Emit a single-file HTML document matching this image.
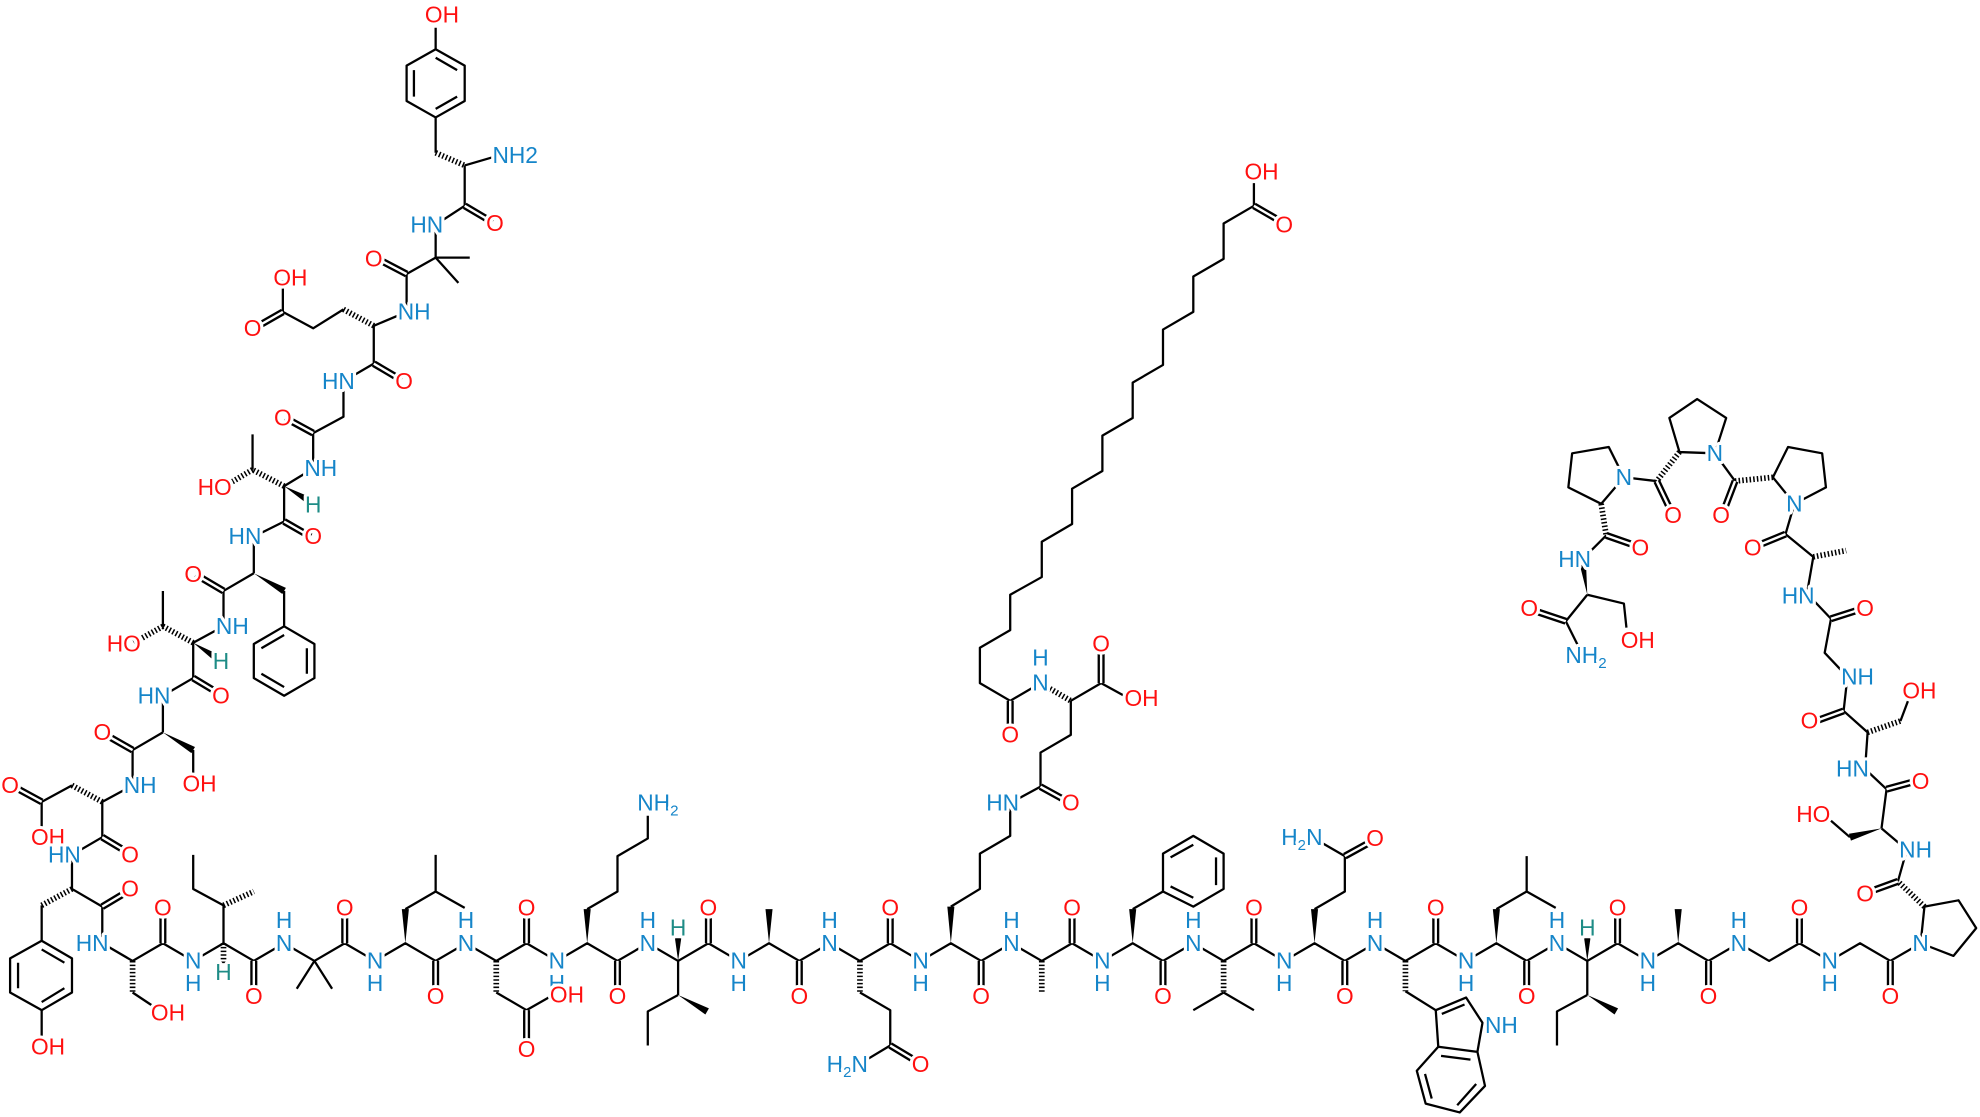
<!DOCTYPE html>
<html><head><meta charset="utf-8"><style>
html,body{margin:0;padding:0;background:#fff;}
svg{display:block}
text{font-family:"Liberation Sans",sans-serif;font-size:18px;text-anchor:middle;stroke:#fff;stroke-width:5px;paint-order:stroke;stroke-linejoin:round}
.n{fill:#1585c9}.o{fill:#ff1010}.h{fill:#1e8c86}
</style></head><body>
<svg width="1980" height="1117" viewBox="0 0 1568 884.6" preserveAspectRatio="none" xmlns="http://www.w3.org/2000/svg">
<rect width="1568" height="884.6" fill="#fff"/>
<defs>
<g id="dbl">
<path d="M368,163L390,176M322,217L299,205M224,247L203,259M296,288L318,301M248,343L226,331M225,413L246,425M177,468L155,455M153,537L173,549M105,594L84,582M33,635L11,623M81,663L101,675M81,718L101,706"/>
<path d="M129,747V723M273,747V723M417,747V723M561,747V723M705,747V723M849,747V723M993,747V723M1137,747V723M1281,747V723M1425,747V723"/>
<path d="M201,761V785M345,761V785M489,761V785M633,761V785M777,761V785M921,761V785M1065,761V785M1209,761V785M1353,761V785M1497,761V785"/>
<path d="M417,800V825M705,828L725,840M1065,678L1085,667M993,163L1012,174M800,555V576M872,541V516M824,623L844,634"/>
<path d="M1503,698L1481,706M1494,625L1516,619M1460,563L1438,571M1450,490L1472,483M1414,423L1392,432M1374,381L1366,402M1312,381L1322,402M1272,424L1295,432M1240,492L1216,484"/>
</g>
</defs>
<g fill="none" stroke="#000" stroke-width="1.8" stroke-linejoin="round">
<polygon points="345,39 368,52 368,80 345,93 322,80 322,52"/>
<path d="M345,45.7L362,55.5M362,76.5L345,86.2M327.8,76.5V55.5"/>
<path d="M345,39V22M345,93V121M368,131L392,124M368,131V163M368,163L345,178M345,178V204M345,204H372M345,204L363,224M345,204L322,217M322,217V247L296,258M272,245L248,260L224,247V222M296,258V288M296,288L272,302V330L248,343M248,343V371L225,385M200,372V344M225,385V413M225,413L201,425V454M225,468V496M201,454L177,468M177,468V496L153,509M129,496V468M153,509V537M153,537L129,551V580M153,594V618M129,580L105,594M105,594V622L81,635M57,622L33,635V660M81,635V663M81,663L57,677V704M33,717V745M33,800V825M57,704L81,718V747"/>
<polygon points="225,496 249,510 249,537 225,551 201,537 201,510"/>
<path d="M207,513.4L225,502.9M243,513.4V533.6M225,544.1L207,533.6"/>
<polygon points="33,745 57,759 57,786 33,800 8,786 8,759"/>
<path d="M33,751.9L51,762.4M51,782.6L33,793.6M14.3,782.6V762.4"/>
<polyline points="81,747 105,761 129,747 153,761 177,747 201,761 225,747 249,761 273,747 297,761 321,747 345,761 369,747 393,761 417,747 441,761 465,747 489,761 513,747 537,761 561,747 585,761 609,747 633,761 657,747 681,761 705,747 729,761 753,747 777,761 801,747 825,761 849,747 873,761 897,747 921,761 945,747 969,761 993,747 1017,761 1041,747 1065,761 1089,747 1113,761 1137,747 1161,761 1185,747 1209,761 1233,747 1257,761 1281,747 1305,761 1329,747 1353,761 1377,747 1401,761 1425,747 1449,761 1473,747 1497,761 1521,747"/>
<path d="M105,786L120,796M177,747V717M177,717L153,704V677M249,761L235,783M249,761L263,783M321,720L345,706V677M345,706L368,719M393,786L417,800M417,800L438,788M465,720L489,706V678L513,664V646M537,761V788M537,788L513,801V828M681,786L705,800V828M705,828L685,840M753,718L776,704V676L800,662V636"/>
<path d="M897,720L921,706"/>
<polygon points="921,706 921,676 945,662 969,676 969,704 945,718"/>
<path d="M927,679L945,669M963,679V701M945,711L927,702"/>
<path d="M969,786L945,800M969,786L993,800M1041,720L1065,706V678M1065,678L1046,667M1113,785L1137,800"/>
<path d="M1137,800L1161,790L1174,810L1170,833L1139,829ZM1139,829L1122,848L1129,874L1156,881L1176,860L1170,833"/>
<path d="M1141.8,803L1159.8,795.5M1128.5,850.5L1133.8,870M1154,875.3L1169,858.5M1164.5,839.2L1141.2,836.2"/>
<path d="M1185,720L1209,706V678M1209,706L1232,719M1257,761V788M1257,788L1233,801V828"/>
<polyline points="993,145 993,163 969,177 969,205 945,219 945,247 921,261 921,289 897,303 897,331 873,345 873,373 849,387 849,415 825,429 825,457 800,471 800,499 776,513 776,541 800,555 824,541"/>
<path d="M848,555L872,541M872,541L892,552M848,555V582L824,596V623M824,623L800,636"/>
<path d="M1521,747L1524,718L1551,713L1565,735L1547,757Z"/>
<path d="M1503,698L1510,673L1490,656M1465,663L1450,650M1490,656L1494,625M1494,625L1477,609L1479,580M1505,571L1511,555M1479,580L1460,563M1460,563L1463,536L1445,517L1450,490M1450,490L1431,470L1436,441M1436,441L1414,423L1421,399"/>
<path d="M1421,399L1404,378L1416,354L1443,359L1446,386Z"/>
<path d="M1374,381L1358,359"/>
<path d="M1358,359L1330,358L1322,331L1344,316L1367,331Z"/>
<path d="M1312,381L1286,378"/>
<path d="M1286,378L1274,354L1245,359L1242,386L1268,399Z"/>
<path d="M1272,424L1253,443M1257,471L1286,478L1288,497M1257,471L1240,492M1240,492L1250,512"/>
</g>
<g fill="none" stroke="#000" stroke-width="4.5" stroke-dasharray="1.2 1.7">
<path d="M345,121L368,131M296,258L272,245M225,385L200,372M200,372L178,385M153,509L129,496M129,496L106,509M81,635L57,622M57,704L33,717M177,747V764M177,717L201,706M105,761V786M393,761V786M681,761V786M825,761V786M969,761V786M1113,761V785M824,541L848,555M1524,718L1503,698M1479,580L1505,571M1436,441L1462,436M1404,378L1374,381M1330,358L1312,381M1268,399L1272,424"/>
</g>
<g fill="#000" stroke="none">
<polygon points="225,385 242.6,398.4 245.4,393.6"/>
<polygon points="201,454 223.6,470.4 226.4,465.6"/>
<polygon points="153,509 168.6,522.4 171.4,517.6"/>
<polygon points="129,580 151.6,596.4 154.4,591.6"/>
<polygon points="321,747 318.2,720 323.8,720"/>
<polygon points="465,747 462.2,720 467.8,720"/>
<polygon points="609,747 606.2,720 611.8,720"/>
<polygon points="753,747 750.2,718 755.8,718"/>
<polygon points="897,747 894.2,720 899.8,720"/>
<polygon points="1041,747 1038.2,720 1043.8,720"/>
<polygon points="1185,747 1182.2,720 1187.8,720"/>
<polygon points="1329,747 1326.2,720 1331.8,720"/>
<polygon points="537,761 534.5,743 539.5,743"/>
<polygon points="1257,761 1254.5,743 1259.5,743"/>
<polygon points="537,788 558.6,803.4 561.4,798.6"/>
<polygon points="1257,788 1278.6,803.4 1281.4,798.6"/>
<polygon points="1490,656 1465.8,665.7 1464.2,660.3"/>
<polygon points="1257,471 1251,447 1256,446"/>
</g>
<use href="#dbl" fill="none" stroke="#000" stroke-width="5.6"/>
<use href="#dbl" fill="none" stroke="#fff" stroke-width="1.9"/>
<g>
<text class="o" x="350" y="18">OH</text>
<text class="n" x="408" y="129">NH2</text>
<text class="o" x="392" y="183">O</text>
<text class="n" x="338" y="184">HN</text>
<text class="o" x="296" y="211">O</text>
<text class="n" x="328" y="253">NH</text>
<text class="o" x="230" y="226">OH</text>
<text class="o" x="200" y="266">O</text>
<text class="o" x="320" y="308">O</text>
<text class="n" x="268" y="308">HN</text>
<text class="o" x="224" y="337">O</text>
<text class="n" x="254" y="377">NH</text>
<text class="h" x="248" y="406">H</text>
<text class="o" x="170" y="392">HO</text>
<text class="o" x="248" y="431">O</text>
<text class="n" x="194" y="431">HN</text>
<text class="o" x="153" y="461">O</text>
<text class="n" x="184" y="502">NH</text>
<text class="h" x="175" y="530">H</text>
<text class="o" x="98" y="516">HO</text>
<text class="o" x="175" y="557">O</text>
<text class="n" x="122" y="557">HN</text>
<text class="o" x="158" y="627">OH</text>
<text class="o" x="81" y="586">O</text>
<text class="n" x="111" y="628">NH</text>
<text class="o" x="8" y="628">O</text>
<text class="o" x="38" y="669">OH</text>
<text class="o" x="103" y="683">O</text>
<text class="n" x="51" y="683">HN</text>
<text class="o" x="38" y="835">OH</text>
<text class="o" x="103" y="710">O</text>
<text class="n" x="73" y="753">HN</text>
<text class="o" x="129" y="725">O</text><text class="o" x="273" y="725">O</text><text class="o" x="417" y="725">O</text><text class="o" x="561" y="725">O</text><text class="o" x="705" y="725">O</text><text class="o" x="849" y="725">O</text><text class="o" x="993" y="725">O</text><text class="o" x="1137" y="725">O</text><text class="o" x="1281" y="725">O</text><text class="o" x="1425" y="725">O</text>
<text class="o" x="201" y="795">O</text><text class="o" x="345" y="795">O</text><text class="o" x="489" y="795">O</text><text class="o" x="633" y="795">O</text><text class="o" x="777" y="795">O</text><text class="o" x="921" y="795">O</text><text class="o" x="1065" y="795">O</text><text class="o" x="1209" y="795">O</text><text class="o" x="1353" y="795">O</text><text class="o" x="1497" y="795">O</text>
<text class="n" x="153" y="767">N</text><text class="n" x="153" y="785">H</text>
<text class="n" x="297" y="767">N</text><text class="n" x="297" y="785">H</text>
<text class="n" x="441" y="767">N</text><text class="n" x="441" y="785">H</text>
<text class="n" x="585" y="767">N</text><text class="n" x="585" y="785">H</text>
<text class="n" x="729" y="767">N</text><text class="n" x="729" y="785">H</text>
<text class="n" x="873" y="767">N</text><text class="n" x="873" y="785">H</text>
<text class="n" x="1017" y="767">N</text><text class="n" x="1017" y="785">H</text>
<text class="n" x="1161" y="767">N</text><text class="n" x="1161" y="785">H</text>
<text class="n" x="1305" y="767">N</text><text class="n" x="1305" y="785">H</text>
<text class="n" x="1449" y="767">N</text><text class="n" x="1449" y="785">H</text>
<text class="n" x="225" y="735">H</text><text class="n" x="225" y="753">N</text>
<text class="n" x="369" y="735">H</text><text class="n" x="369" y="753">N</text>
<text class="n" x="513" y="735">H</text><text class="n" x="513" y="753">N</text>
<text class="n" x="657" y="735">H</text><text class="n" x="657" y="753">N</text>
<text class="n" x="801" y="735">H</text><text class="n" x="801" y="753">N</text>
<text class="n" x="945" y="735">H</text><text class="n" x="945" y="753">N</text>
<text class="n" x="1089" y="735">H</text><text class="n" x="1089" y="753">N</text>
<text class="n" x="1233" y="735">H</text><text class="n" x="1233" y="753">N</text>
<text class="n" x="1377" y="735">H</text><text class="n" x="1377" y="753">N</text>
<text class="n" x="1521" y="753">N</text>
<text class="h" x="177" y="776">H</text>
<text class="o" x="133" y="808">OH</text>
<text class="o" x="417" y="837">O</text>
<text class="o" x="449" y="794">OH</text>
<text class="n" x="521" y="642">NH<tspan font-size="12" dy="4">2</tspan></text>
<text class="h" x="537" y="741">H</text>
<text class="h" x="1257" y="741">H</text>
<text class="o" x="729" y="849">O</text>
<text class="n" x="671" y="849">H<tspan font-size="12" dy="4">2</tspan><tspan dy="-4">N</tspan></text>
<text class="o" x="1089" y="670">O</text>
<text class="n" x="1031" y="669">H<tspan font-size="12" dy="4">2</tspan><tspan dy="-4">N</tspan></text>
<text class="n" x="1189" y="818">NH</text>
<text class="o" x="999" y="142">OH</text>
<text class="o" x="1017" y="184">O</text>
<text class="o" x="800" y="588">O</text>
<text class="n" x="824" y="527">H</text><text class="n" x="824" y="547">N</text>
<text class="o" x="872" y="516">O</text>
<text class="o" x="904" y="559">OH</text>
<text class="o" x="848" y="642">O</text>
<text class="n" x="794" y="642">HN</text>
<text class="o" x="1477" y="714">O</text>
<text class="n" x="1517" y="679">NH</text>
<text class="o" x="1436" y="651">HO</text>
<text class="o" x="1521" y="625">O</text>
<text class="n" x="1467" y="615">HN</text>
<text class="o" x="1520" y="553">OH</text>
<text class="o" x="1433" y="577">O</text>
<text class="n" x="1471" y="542">NH</text>
<text class="o" x="1477" y="488">O</text>
<text class="n" x="1424" y="478">HN</text>
<text class="o" x="1388" y="440">O</text>
<text class="n" x="1421" y="405">N</text>
<text class="o" x="1363" y="414">O</text>
<text class="n" x="1358" y="365">N</text>
<text class="o" x="1325" y="414">O</text>
<text class="n" x="1286" y="384">N</text>
<text class="o" x="1299" y="440">O</text>
<text class="n" x="1247" y="449">HN</text>
<text class="o" x="1297" y="513">OH</text>
<text class="o" x="1211" y="488">O</text>
<text class="n" x="1256" y="525">NH<tspan font-size="12" dy="4">2</tspan></text>
</g>
</svg>
</body></html>
